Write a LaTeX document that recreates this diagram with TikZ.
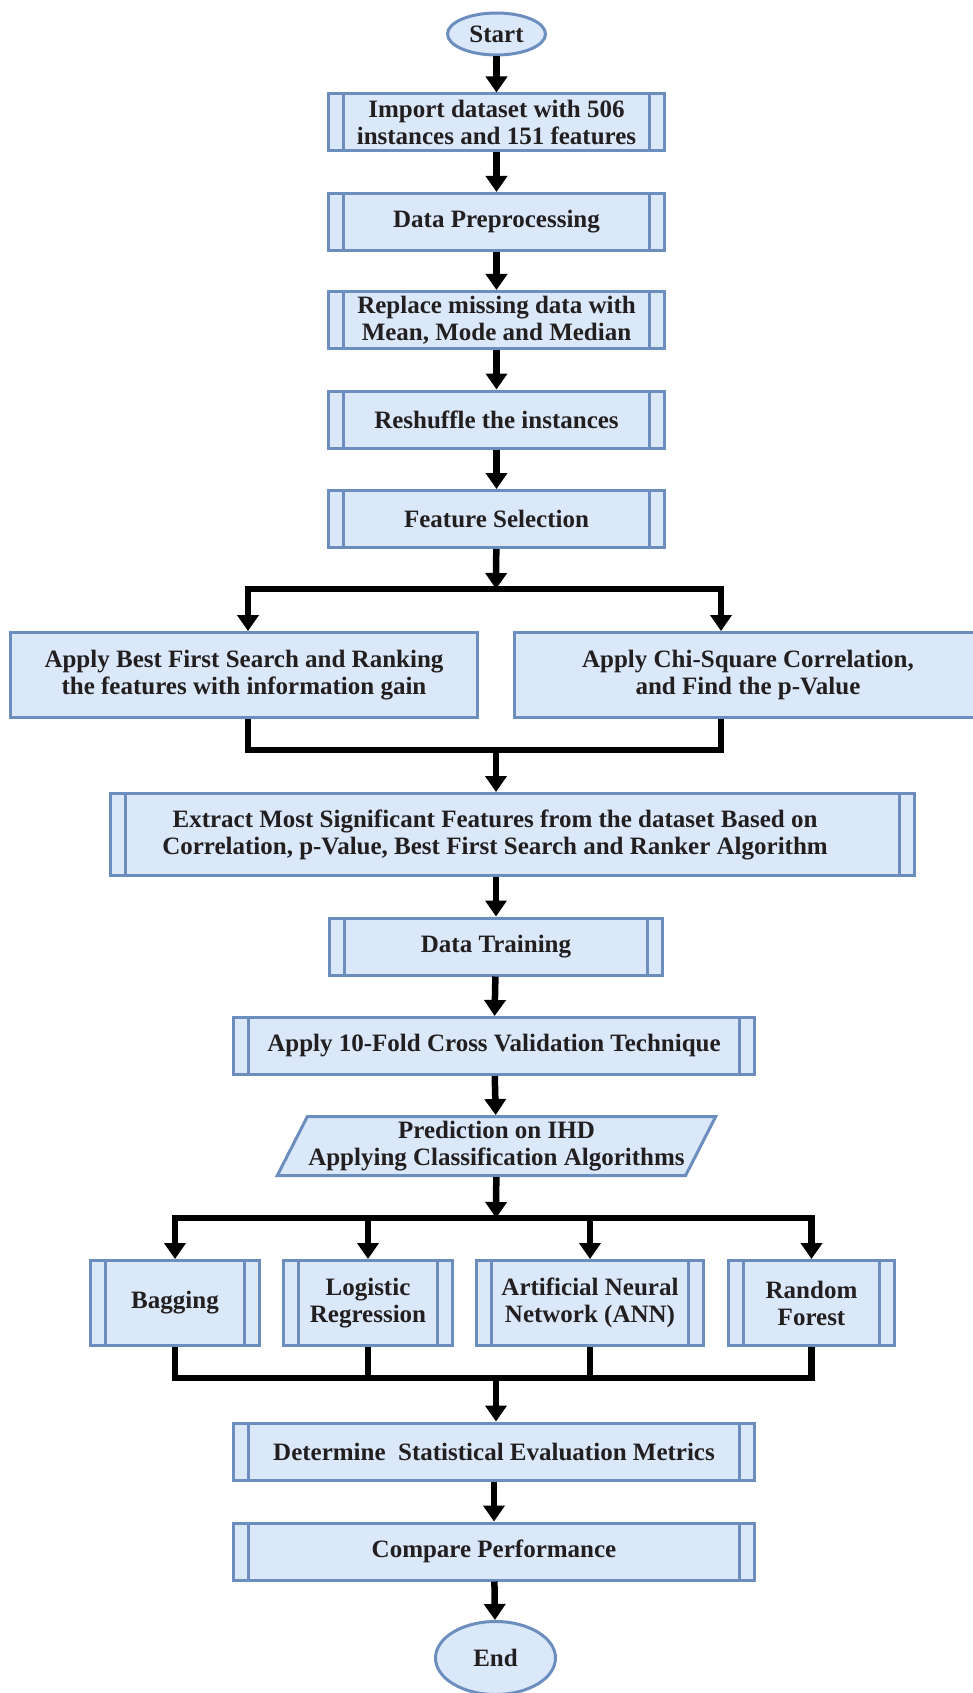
\documentclass[tikz,border=0pt]{standalone}
\usepackage{fontspec}
\setmainfont{Liberation Serif}
\usetikzlibrary{calc, shapes.geometric, arrows.meta}

\begin{document}
\begin{tikzpicture}[x=1pt, y=-1pt,
    box/.style={draw=boxline, fill=boxfill, line width=3pt, align=center,
        text=txt, inner sep=0pt, minimum height=57pt,
        font=\fontsize{25}{27}\selectfont\bfseries},
    proc/.style={box, path picture={
        \draw[boxline, line width=3pt]
            ([xshift=15pt]path picture bounding box.north west) --
            ([xshift=15pt]path picture bounding box.south west)
            ([xshift=-15pt]path picture bounding box.north east) --
            ([xshift=-15pt]path picture bounding box.south east);}},
    term/.style={box, ellipse},
    io/.style={box, trapezium, trapezium left angle=59,
        trapezium right angle=121, trapezium stretches=true},
    bar/.style={line width=6.5pt, line join=miter},
    arr/.style={bar, -{Triangle[width=21pt, length=16pt]}}]
    % Colours of the boxes
    \definecolor{boxfill}{RGB}{218, 232, 250}
    \definecolor{boxline}{RGB}{108, 142, 191}
    \definecolor{txt}{RGB}{35, 31, 32}

    \useasboundingbox (0,0) rectangle (972,1693);

    % 1. Main column, top part
    \node[term, minimum width=98pt, minimum height=42pt] (start) at (496.5,34) {Start};
    \node[proc, minimum width=336pt] (import) at (496.5,122.5)
        {Import dataset with 506\\instances and 151 features};
    \node[proc, minimum width=336pt] (prep) at (496.5,222) {Data Preprocessing};
    \node[proc, minimum width=336pt] (replace) at (496.5,320)
        {Replace missing data with\\Mean, Mode and Median};
    \node[proc, minimum width=336pt] (shuffle) at (496.5,419.5) {Reshuffle the instances};
    \node[proc, minimum width=336pt] (fsel) at (496.5,519) {Feature Selection};

    % 2. Two feature selection methods
    \node[box, minimum width=467pt, minimum height=85pt] (best) at (244,675)
        {Apply Best First Search and Ranking\\the features with information gain};
    \node[box, minimum width=467pt, minimum height=85pt] (chi) at (748,675)
        {Apply Chi-Square Correlation,\\and Find the p-Value};
    \node[proc, minimum width=804pt, minimum height=82pt] (extract) at (512.5,834.5) {};
    \node[font=\fontsize{25}{27}\selectfont\bfseries, text=txt, align=center,
        inner sep=0pt] (extracttxt) at (495,834.5)
        {Extract Most Significant Features from the dataset Based on\\Correlation, p-Value, Best First Search and Ranker Algorithm};

    % 3. Training and prediction
    \node[proc, minimum width=333pt] (train) at (496,946.5) {Data Training};
    \node[proc, minimum width=521pt] (cv) at (494,1046) {Apply 10-Fold Cross Validation Technique};
    \node[io, minimum width=439pt, minimum height=59pt] (pred) at (496.5,1146)
        {Prediction on IHD\\Applying Classification Algorithms};

    % 4. Classifiers
    \node[proc, minimum width=169pt, minimum height=85pt] (bag) at (175,1303) {Bagging};
    \node[proc, minimum width=169pt, minimum height=85pt] (logit) at (368,1303) {Logistic\\Regression};
    \node[proc, minimum width=227pt, minimum height=85pt] (ann) at (590,1303) {Artificial Neural\\Network (ANN)};
    \node[proc, minimum width=166pt, minimum height=85pt] (rf) at (811.5,1303) {Random\\Forest};

    % 5. Evaluation and end
    \node[proc, minimum width=521pt] (metrics) at (494,1451.5) {Determine\ \ Statistical Evaluation Metrics};
    \node[proc, minimum width=521pt] (compare) at (494,1551.5) {Compare Performance};
    \node[term, minimum width=120pt, minimum height=73pt] (end) at (495.5,1658) {End};

    % 6. Connectors
    \foreach \a/\b in {start/import, import/prep, prep/replace, replace/shuffle,
        shuffle/fsel, train/cv, cv/pred, metrics/compare, compare/end}
        \draw[arr] (\a) -- (\b);

    \coordinate (split1) at (496,589);
    \coordinate (join1) at (496,750);
    \draw[arr] (fsel) -- (split1);
    \draw[arr] (split1) -| ([xshift=4pt]best.north);
    \draw[arr] (split1) -| ([xshift=-27pt]chi.north);
    \draw[bar] ([xshift=4pt]best.south) |- (join1);
    \draw[bar] ([xshift=-27pt]chi.south) |- (join1);
    \draw[arr] (join1) -- (extract.north -| join1);
    \draw[arr] (extract.south -| train) -- (train);

    \coordinate (split2) at (496,1218);
    \coordinate (join2) at (496,1378);
    \draw[arr] (pred) -- (split2);
    \foreach \c in {bag, logit, ann, rf} {
        \draw[arr] (split2) -| (\c.north);
        \draw[bar] (\c.south) |- (join2);
    }
    \draw[arr] (join2) -- (metrics.north -| join2);
\end{tikzpicture}
\end{document}
